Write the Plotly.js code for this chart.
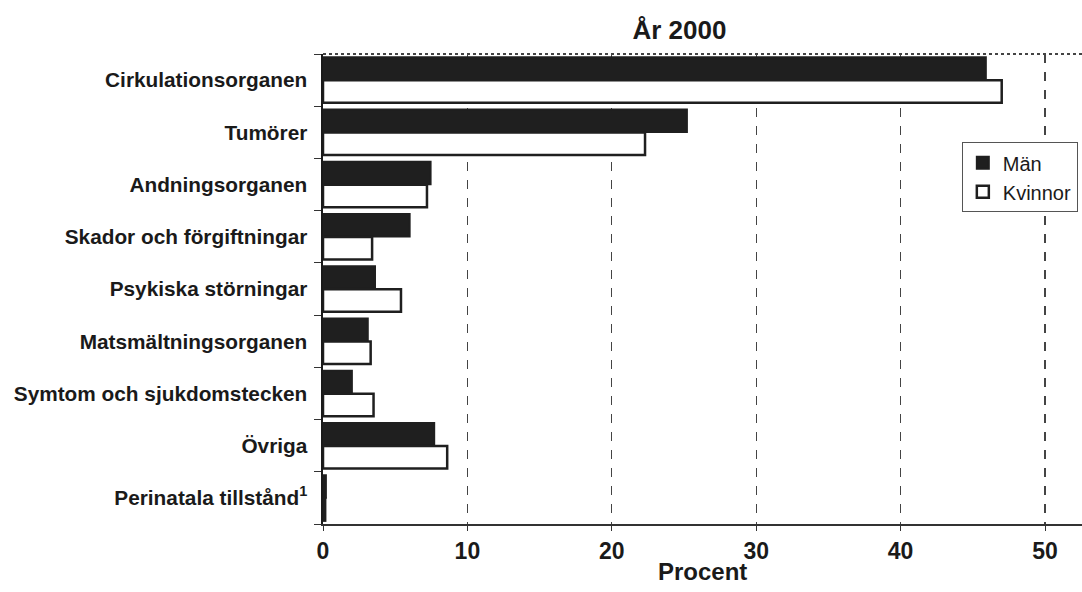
<!DOCTYPE html>
<html><head><meta charset="utf-8">
<script src="https://cdn.plot.ly/plotly-3.0.1.min.js"></script>
<style>html,body{margin:0;padding:0;background:#fff}#c{width:1082px;height:592px}</style>
</head><body><div id="c"></div>
<script>
var categories = ["Cirkulationsorganen","Tumörer","Andningsorganen","Skador och förgiftningar","Psykiska störningar","Matsmältningsorganen","Symtom och sjukdomstecken","Övriga","Perinatala tillstånd<sup>1</sup>"];
var man = [45.9, 25.2, 7.45, 6.0, 3.6, 3.1, 2.0, 7.7, 0.2];
var kvinnor = [47.0, 22.3, 7.2, 3.4, 5.4, 3.3, 3.5, 8.6, 0.15];
var xTicks = [0,10,20,30,40,50];

var font = "Liberation Sans, Arial, sans-serif";
var traces = [
  {type:'bar', orientation:'h', name:'Män', y:categories, x:man,
   marker:{color:'#1f1f1f', line:{color:'#1f1f1f', width:2}}},
  {type:'bar', orientation:'h', name:'Kvinnor', y:categories, x:kvinnor,
   marker:{color:'#ffffff', line:{color:'#1f1f1f', width:2.5}}}
];
var layout = {
  width:1082, height:592,
  margin:{l:323, r:0, t:54, b:68, autoexpand:false},
  paper_bgcolor:'#fff', plot_bgcolor:'#fff',
  font:{family:font, color:'#1a1a1a'},
  barmode:'group', bargap:0.12, bargroupgap:0.02,
  title:{text:'<b>År 2000</b>', x:0.628, xanchor:'center', y:0.95, yanchor:'middle', font:{size:26, family:font, color:'#1a1a1a'}},
  xaxis:{range:[0,52.56], tickvals:xTicks, ticktext:xTicks.map(function(v){return '<b>'+v+'</b>';}), showgrid:true, gridcolor:'#444', griddash:'dash', gridwidth:1.2,
         zeroline:false, showline:true, linecolor:'#333', linewidth:2, ticks:'outside', ticklen:5, tickcolor:'#333',
         tickfont:{size:23, family:font, color:'#1a1a1a'}, fixedrange:true, automargin:false},
  yaxis:{autorange:'reversed', type:'category', showline:true, linecolor:'#1a1a1a', linewidth:2.5, ticks:'outside', tickson:'boundaries', ticklen:7, tickcolor:'#333',
         showgrid:false, tickfont:{size:20.8, family:font, color:'#1a1a1a'}, ticklabelstandoff:9, automargin:false},
  legend:{x:0.9945, y:0.812, xanchor:'right', yanchor:'top', bordercolor:'#555', borderwidth:1, bgcolor:'#fff',
          font:{size:20, family:font, color:'#1a1a1a'}, traceorder:'normal', itemwidth:30, tracegroupgap:2},
  annotations:[{text:'<b>Procent</b>', xref:'paper', yref:'paper', x:0.5, y:-0.1, xanchor:'center', yanchor:'middle', showarrow:false,
                font:{size:24, family:font, color:'#1a1a1a'}}],
  shapes:[{type:'line', xref:'paper', yref:'paper', x0:0, x1:1, y0:1, y1:1, line:{color:'#444', width:2, dash:'dot'}}]
};
layout.yaxis.tickvals = categories;
layout.yaxis.ticktext = categories.map(function(c){return '<b>'+c+'</b>';});
Plotly.newPlot('c', traces, layout, {displayModeBar:false, staticPlot:true});
</script></body></html>
